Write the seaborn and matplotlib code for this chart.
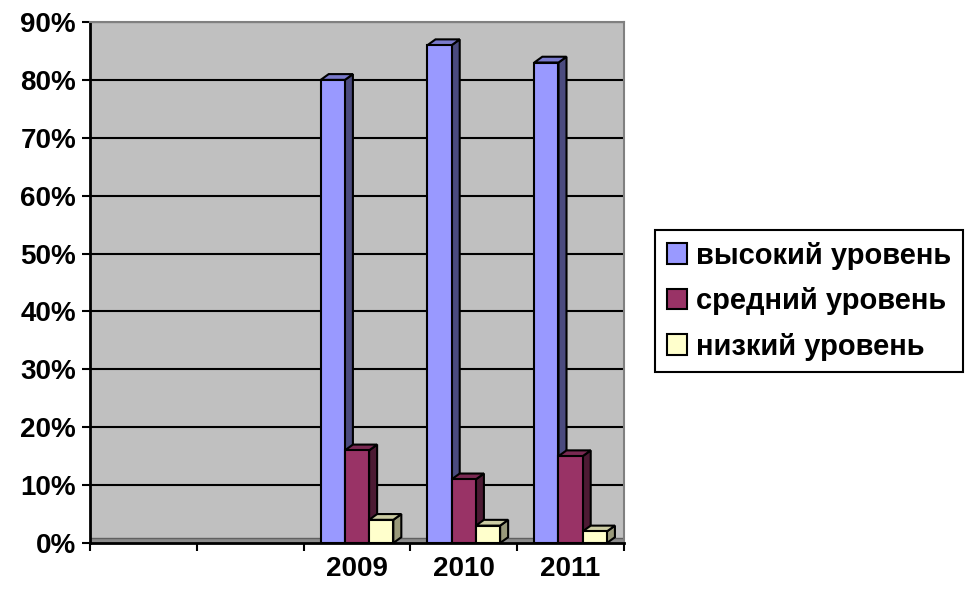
import matplotlib
matplotlib.use("Agg")
import matplotlib.pyplot as plt
import matplotlib.colors as mcolors
import pandas as pd
import seaborn as sns
from matplotlib.patches import Patch, Polygon

# data
categories = ["", " ", "2009", "2010", "2011"]
years = ["2009", "2010", "2011"]
high = [80, 86, 83]
mid = [16, 11, 15]
low = [4, 3, 2]
series = ["высокий уровень", "средний уровень", "низкий уровень"]
y_ticks = [0, 10, 20, 30, 40, 50, 60, 70, 80, 90]

front = ["#9999FF", "#993366", "#FFFFCC"]
side = ["#4B4B7F", "#4C1A33", "#99997A"]
top = ["#7A7ACC", "#7A2952", "#CCCCA3"]

sns.set_theme(style="white")
plt.rcParams["font.family"] = ["Liberation Sans", "DejaVu Sans"]
plt.rcParams["font.weight"] = "bold"
plt.rcParams["text.color"] = "black"
plt.rcParams["xtick.color"] = "black"
plt.rcParams["ytick.color"] = "black"
plt.rcParams["xtick.labelcolor"] = "black"
plt.rcParams["ytick.labelcolor"] = "black"

df = pd.DataFrame({
    "year": years * 3,
    "value": high + mid + low,
    "level": [s for s in series for _ in years],
})

fig = plt.figure(figsize=(9.76, 5.89), dpi=100)
fig.patch.set_facecolor("white")
ax = fig.add_axes([90 / 976, 1 - 543 / 589, (624 - 90) / 976, (543 - 22) / 589])
ax.set_facecolor("#C0C0C0")

sns.barplot(data=df, x="year", y="value", hue="level", order=categories,
            hue_order=series, palette=dict(zip(series, front)), width=0.68,
            edgecolor="black", linewidth=1.5, saturation=1, legend=False, ax=ax)

# fake 3d depth on each bar
dx, dy = 0.075, 1.0
hexes = [mcolors.to_hex(c).lower() for c in front]
for p in list(ax.patches):
    fc = mcolors.to_hex(p.get_facecolor()).lower()
    if fc not in hexes or p.get_height() == 0:
        continue
    k = hexes.index(fc)
    x0, w, h = p.get_x(), p.get_width(), p.get_height()
    z = 3 + k
    p.set_zorder(z + 0.5)
    ax.add_patch(Polygon([(x0 + w, 0), (x0 + w + dx, dy), (x0 + w + dx, h + dy), (x0 + w, h)],
                         closed=True, facecolor=side[k], edgecolor="black", lw=1.5, zorder=z))
    ax.add_patch(Polygon([(x0, h), (x0 + dx, h + dy), (x0 + w + dx, h + dy), (x0 + w, h)],
                         closed=True, facecolor=top[k], edgecolor="black", lw=1.5, zorder=z))

# floor strip
ax.axhspan(0, 0.9, facecolor="#8C8C8C", edgecolor="#606060", lw=1, zorder=1)

ax.set_xlim(-0.5, 4.5)
ax.set_ylim(0, 90)
ax.set_yticks(y_ticks)
ax.set_yticklabels([f"{v}%" for v in y_ticks], fontsize=20, fontweight="bold")
ax.yaxis.grid(True, color="black", lw=1.5)
ax.set_axisbelow(True)

ax.set_xticks([i - 0.5 for i in range(len(categories) + 1)])
ax.set_xticklabels([""] * (len(categories) + 1))
ax.set_xticks(range(len(categories)), minor=True)
ax.set_xticklabels([c.strip() for c in categories], minor=True, fontsize=20, fontweight="bold")
ax.tick_params(axis="x", which="major", direction="out", length=6, width=1.5, color="black", bottom=True)
ax.tick_params(axis="x", which="minor", length=0, pad=9)
ax.tick_params(axis="y", direction="out", length=6, width=1.5, color="black", pad=4, left=True)
ax.set_xlabel("")
ax.set_ylabel("")

for s in ["left", "bottom"]:
    ax.spines[s].set_color("black")
    ax.spines[s].set_linewidth(2)
for s in ["top", "right"]:
    ax.spines[s].set_color("#808080")
    ax.spines[s].set_linewidth(1.5)

handles = [Patch(facecolor=c, edgecolor="black", lw=1.5) for c in front]
leg = fig.legend(handles, series, loc="upper left", bbox_to_anchor=(655 / 976, 1 - 230 / 589),
                 frameon=True, fancybox=False, edgecolor="black", framealpha=1,
                 handlelength=0.7, handleheight=0.7, handletextpad=0.3,
                 borderpad=0.4, labelspacing=0.6, borderaxespad=0,
                 prop={"size": 21, "weight": "bold"})
leg.get_frame().set_linewidth(1.5)

fig.savefig("out.png", dpi=100)
